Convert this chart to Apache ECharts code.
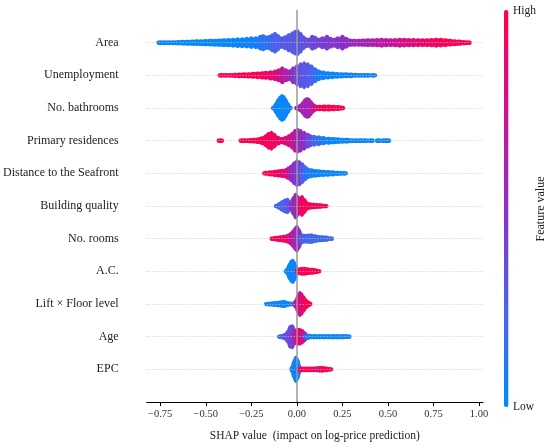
<!DOCTYPE html>
<html><head><meta charset="utf-8">
<script src="https://cdn.jsdelivr.net/npm/echarts@6/dist/echarts.min.js"></script>
<style>html,body{margin:0;padding:0;background:#fff}#c{width:550px;height:447px}</style>
</head><body><div id="c"></div>
<script>
// Features, top to bottom
const features = ['Area','Unemployment','No. bathrooms','Primary residences','Distance to the Seafront','Building quality','No. rooms','A.C.','Lift \u00d7 Floor level','Age','EPC'];
const tickValues = [-0.75,-0.5,-0.25,0,0.25,0.5,0.75,1.0];
const colorScale = ['#008bfb','#5060ec','#8a30c8','#d0108e','#ff0052'];

// Swarm profiles: [SHAP value, swarm half-spread (stacked points), normalised feature value]
const area = [[-0.75,2.3,0.02],[-0.725,2.4,0.02],[-0.7,2.4,0.02],[-0.675,2.5,0.02],[-0.65,2.6,0.02],[-0.625,2.8,0.02],[-0.6,3.0,0.02],[-0.575,3.1,0.02],[-0.55,3.3,0.02],[-0.525,3.4,0.02],[-0.5,3.6,0.02],[-0.475,3.8,0.02],[-0.45,4.0,0.02],[-0.425,4.2,0.02],[-0.4,4.4,0.02],[-0.375,4.7,0.03],[-0.35,5.0,0.03],[-0.325,5.3,0.03],[-0.3,5.5,0.04],[-0.275,5.8,0.04],[-0.25,6.3,0.05],[-0.225,6.5,0.07],[-0.2,8.0,0.1],[-0.185,8.7,0.12],[-0.17,7.5,0.14],[-0.15,7.8,0.16],[-0.135,9.5,0.2],[-0.12,11,0.22],[-0.105,9,0.24],[-0.085,6.3,0.26],[-0.065,7.5,0.27],[-0.045,9.7,0.28],[-0.025,11.5,0.28],[-0.01,13,0.29],[0.005,13.3,0.3],[0.02,11,0.3],[0.035,7.5,0.32],[0.05,5.5,0.33],[0.065,5,0.34],[0.085,8,0.36],[0.1,7,0.38],[0.12,5,0.4],[0.14,6.5,0.42],[0.165,8,0.44],[0.185,6,0.46],[0.205,5,0.47],[0.225,6.5,0.48],[0.25,8,0.5],[0.27,6,0.52],[0.29,4.2,0.54],[0.315,4,0.56],[0.34,4,0.57],[0.365,4.2,0.59],[0.39,4.3,0.6],[0.415,4.3,0.62],[0.44,4.6,0.64],[0.465,5,0.66],[0.49,4.6,0.68],[0.515,4.3,0.7],[0.54,4.6,0.72],[0.565,5,0.75],[0.59,4.8,0.78],[0.615,4.6,0.8],[0.64,4.7,0.82],[0.665,4.5,0.85],[0.69,4.3,0.87],[0.715,4.3,0.9],[0.74,4.7,0.92],[0.765,5,0.94],[0.79,4.8,0.96],[0.815,4.3,0.97],[0.84,3.8,0.98],[0.865,3.5,0.99],[0.89,3.1,1],[0.915,2.7,1],[0.94,2.3,1]];
const unemployment = [[-0.415,2.1,1],[-0.39,2.2,1],[-0.365,2.4,1],[-0.34,2.6,1],[-0.315,2.8,1],[-0.29,3.0,0.99],[-0.265,3.2,0.98],[-0.24,3.5,0.97],[-0.215,3.8,0.96],[-0.19,4.2,0.95],[-0.17,4.5,0.93],[-0.145,5.2,0.9],[-0.12,5.8,0.85],[-0.1,7,0.8],[-0.08,9,0.7],[-0.06,7,0.65],[-0.04,6,0.6],[-0.02,9,0.5],[0,11,0.4],[0.02,13,0.32],[0.04,14,0.3],[0.06,13,0.28],[0.08,11,0.25],[0.1,8,0.15],[0.12,6,0.08],[0.145,4.8,0.05],[0.17,4.2,0.04],[0.195,3.8,0.03],[0.22,3.4,0.03],[0.245,3.2,0.03],[0.27,3.0,0.03],[0.295,2.8,0.03],[0.32,2.5,0.03],[0.345,2.3,0.03],[0.37,2.1,0.03],[0.39,2.0,0.03],[0.42,2.1,0.03]];
const bathrooms = [[-0.122,2.5,0.03],[-0.112,6,0.03],[-0.102,10,0.03],[-0.092,12.5,0.03],[-0.082,14,0.03],[-0.072,13,0.03],[-0.062,10,0.03],[-0.052,6,0.03],[-0.043,2.5,0.03],[0.005,2.5,0.6],[0.015,3.5,0.6],[0.025,4.5,0.6],[0.035,7,0.6],[0.045,10,0.6],[0.055,11,0.6],[0.065,10.5,0.6],[0.075,8,0.6],[0.085,5.5,0.62],[0.095,3.8,0.7],[0.105,3.2,0.85],[0.125,3.3,0.95],[0.15,3.5,1],[0.175,3.5,1],[0.2,3.3,1],[0.225,3,1],[0.245,2.5,1]];
const primary = [[-0.42,2.1,1],[-0.3,2.2,1],[-0.28,2.4,1],[-0.255,2.6,1],[-0.233,2.8,1],[-0.21,3.4,1],[-0.19,4.3,0.98],[-0.17,6.5,0.97],[-0.155,9,0.96],[-0.14,10,0.95],[-0.125,8,0.94],[-0.105,5,0.92],[-0.08,3.6,0.9],[-0.06,5,0.85],[-0.042,6.7,0.8],[-0.025,9,0.75],[-0.01,12,0.68],[0.005,13,0.6],[0.02,12,0.55],[0.04,10,0.5],[0.06,8,0.42],[0.075,6.5,0.35],[0.095,6,0.25],[0.12,5.5,0.15],[0.145,4.7,0.08],[0.175,4,0.04],[0.2,3.6,0.03],[0.225,3.3,0.03],[0.25,3,0.03],[0.275,2.8,0.03],[0.3,2.5,0.03],[0.325,2.3,0.03],[0.35,2.2,0.03],[0.375,2.1,0.03],[0.407,2.1,0.03],[0.447,2.1,0.03],[0.478,2.1,0.03],[0.498,2.1,0.03]];
const seafront = [[-0.17,2.5,0.97],[-0.145,3.2,0.96],[-0.12,3.7,0.95],[-0.1,4.2,0.93],[-0.08,4.7,0.9],[-0.06,5.3,0.85],[-0.045,7,0.75],[-0.03,9,0.6],[-0.015,12,0.5],[0,14,0.45],[0.015,13,0.4],[0.03,11,0.3],[0.045,8,0.2],[0.06,6,0.1],[0.08,5,0.06],[0.1,4.3,0.05],[0.12,4,0.04],[0.145,3.7,0.03],[0.17,3.4,0.03],[0.195,3.1,0.03],[0.22,2.6,0.03],[0.238,2.3,0.03],[0.26,2.1,0.03]];
const quality = [[-0.106,2.5,0.2],[-0.092,4,0.2],[-0.079,6,0.22],[-0.065,7.5,0.24],[-0.052,8.3,0.26],[-0.04,5.5,0.3],[-0.03,5,0.4],[-0.018,10,0.5],[-0.007,13.3,0.55],[0.005,11,0.6],[0.015,9,0.75],[0.028,11,0.9],[0.04,8,0.95],[0.052,4.8,0.97],[0.07,3.8,0.98],[0.09,3.3,1],[0.11,3,1],[0.13,2.8,1],[0.153,2.3,1]];
const rooms = [[-0.13,2.3,0.97],[-0.11,3,0.96],[-0.09,3.5,0.95],[-0.07,4,0.93],[-0.05,5,0.88],[-0.035,6.5,0.8],[-0.022,9,0.7],[-0.01,12,0.62],[0,14,0.58],[0.01,11,0.5],[0.022,6,0.35],[0.035,5,0.25],[0.05,5,0.22],[0.065,5.2,0.21],[0.08,5.3,0.2],[0.1,4.3,0.2],[0.12,3.7,0.2],[0.14,3.4,0.2],[0.16,3.1,0.2],[0.184,2.3,0.2]];
const ac = [[-0.052,2.5,0.03],[-0.045,5,0.03],[-0.038,9,0.03],[-0.03,12,0.03],[-0.022,12.5,0.03],[-0.014,10,0.03],[-0.007,6,0.03],[-0.002,3,0.03],[0.005,2.5,0.85],[0.015,3.5,0.92],[0.025,4.3,0.97],[0.04,4.5,1],[0.055,4,1],[0.07,3.5,1],[0.085,3.5,1],[0.1,3,1],[0.115,2.4,1]];
const lift = [[-0.16,2.3,0.03],[-0.14,2.6,0.03],[-0.12,3,0.03],[-0.1,3.3,0.03],[-0.085,3.8,0.03],[-0.07,4,0.03],[-0.055,3,0.03],[-0.04,2.4,0.03],[-0.025,2.3,0.03],[-0.012,2.5,0.03],[-0.002,5,0.75],[0.008,10,0.75],[0.016,13,0.75],[0.025,12,0.8],[0.035,9,0.85],[0.045,6,0.95],[0.055,4,1],[0.065,2.8,1]];
const age = [[-0.088,2.1,0.1],[-0.075,2.8,0.2],[-0.061,3.8,0.3],[-0.048,7,0.35],[-0.036,12,0.38],[-0.025,12.5,0.4],[-0.015,9,0.45],[-0.005,8,0.6],[0.005,9,0.85],[0.015,9,0.9],[0.027,8,0.85],[0.039,5.8,0.7],[0.05,3.5,0.4],[0.06,2.8,0.1],[0.075,2.6,0.03],[0.1,2.6,0.03],[0.125,2.6,0.03],[0.15,2.7,0.03],[0.175,2.7,0.03],[0.2,2.7,0.03],[0.225,2.6,0.03],[0.25,2.6,0.03],[0.265,2.3,0.03],[0.28,2.1,0.03]];
const epc = [[-0.02,4,0.05],[-0.013,10,0.05],[-0.006,13.5,0.05],[0.001,12,0.05],[0.007,6,0.05],[0.015,2.6,0.85],[0.03,2.8,0.95],[0.05,2.8,1],[0.07,2.8,1],[0.09,2.8,0.95],[0.11,3,0.85],[0.125,3.3,0.8],[0.14,3.3,0.95],[0.16,2.8,1],[0.18,2.2,1]];

const swarms = [area, unemployment, bathrooms, primary, seafront, quality, rooms, ac, lift, age, epc];

const n = features.length;
const points = [];
swarms.forEach((rows, i) => rows.forEach(p => points.push([p[0], n - 1 - i, p[2], p[1]])));
const rowLines = features.map((f, i) => ({ yAxis: i }));

const font = '"Liberation Serif", "Times New Roman", serif';
const chart = echarts.init(document.getElementById('c'));
chart.setOption({
  animation: false,
  backgroundColor: '#fff',
  grid: { left: 143, right: 67, top: 10, bottom: 40 },
  xAxis: {
    type: 'value', min: -0.8246, max: 1.0218,
    splitLine: { show: false },
    axisLine: { onZero: false, lineStyle: { color: '#000', width: 1 } },
    axisTick: { customValues: tickValues, length: 4, lineStyle: { color: '#000' } },
    axisLabel: { customValues: tickValues, formatter: v => (v < 0 ? '\u2212' : '') + Math.abs(v).toFixed(2),
      fontFamily: font, fontSize: 10.5, color: '#333', margin: 7 },
    name: 'SHAP value  (impact on log-price prediction)', nameLocation: 'middle', nameGap: 28,
    nameTextStyle: { fontFamily: font, fontSize: 11.5, color: '#222' }
  },
  yAxis: {
    type: 'value', min: -1, max: 11, interval: 1,
    axisLine: { show: false }, axisTick: { show: false }, splitLine: { show: false },
    axisLabel: { formatter: v => (v >= 0 && v < n) ? features[n - 1 - v] : '', fontFamily: font, fontSize: 12, color: '#222', margin: 28 }
  },
  visualMap: {
    type: 'continuous', min: 0, max: 1, dimension: 2, seriesIndex: 2, orient: 'vertical',
    left: 504, top: 10, itemWidth: 4.5, itemHeight: 397, padding: 0, calculable: false, hoverLink: false,
    inRange: { color: colorScale }, textStyle: { color: 'transparent' }
  },
  series: [
    { type: 'line', data: [], z: 1, silent: true,
      markLine: { silent: true, symbol: ['none', 'none'], label: { show: false }, animation: false,
        lineStyle: { color: '#c8c8c8', width: 1, type: [1, 2] }, data: rowLines } },
    { type: 'line', data: [], z: 5, silent: true,
      markLine: { silent: true, symbol: ['none', 'none'], label: { show: false }, animation: false,
        lineStyle: { color: '#999', width: 1.5, type: 'solid' }, data: [{ xAxis: 0 }] } },
    { type: 'scatter', data: points, z: 3, symbol: 'circle', silent: true,
      symbolSize: v => { const h = Math.max(2 * v[3], 4.6); return [7.5, h]; },
      itemStyle: { opacity: 1 } }
  ],
  graphic: [
    { type: 'text', x: 513, y: 11, style: { text: 'High', font: '11.5px "Liberation Serif"', fill: '#222', align: 'left', verticalAlign: 'middle' } },
    { type: 'text', x: 513, y: 407, style: { text: 'Low', font: '11.5px "Liberation Serif"', fill: '#222', align: 'left', verticalAlign: 'middle' } },
    { type: 'text', x: 541, y: 209, rotation: Math.PI / 2, style: { text: 'Feature value', font: '12px "Liberation Serif"', fill: '#222', align: 'center', verticalAlign: 'middle' } }
  ]
});
</script></body></html>
